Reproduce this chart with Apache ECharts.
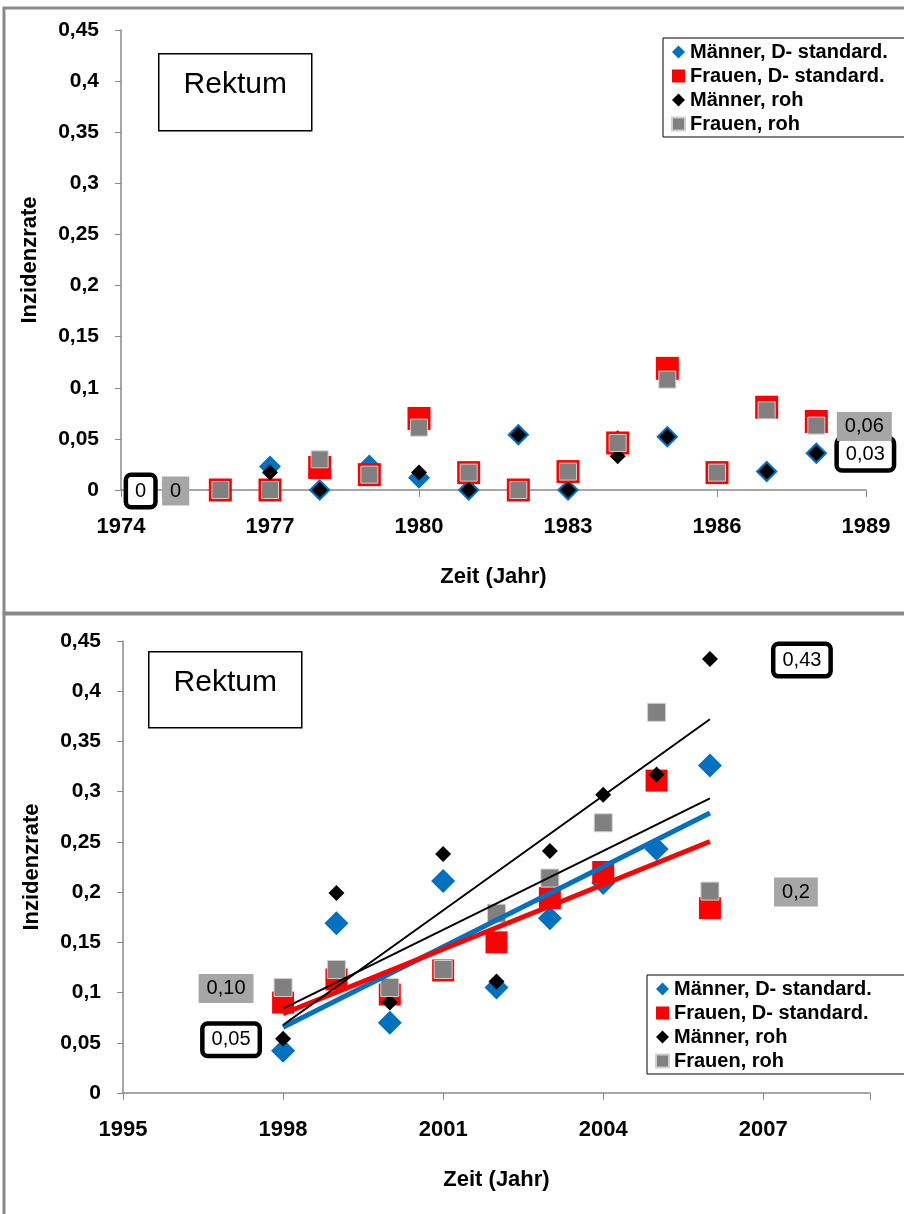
<!DOCTYPE html>
<html>
<head>
<meta charset="utf-8">
<script src="https://cdn.jsdelivr.net/npm/echarts@6/dist/echarts.min.js"></script>
<style>
  html, body { margin: 0; padding: 0; background: #fff; }
  #chart { width: 904px; height: 1214px; }
</style>
</head>
<body>
<div id="chart"></div>
<script>
var seriesNames = ['Männer, D- standard.', 'Frauen, D- standard.', 'Männer, roh', 'Frauen, roh'];
var titleText = 'Rektum';

// oberes Diagramm, 1975 - 1988
var yearsEarly = [1975, 1976, 1977, 1978, 1979, 1980, 1981, 1982, 1983, 1984, 1985, 1986, 1987, 1988];
var maennerStdEarly = [null, 0, 0.023, 0, 0.024, 0.012, 0, 0.054, 0, 0.048, 0.052, 0.017, 0.018, 0.036];
var frauenStdEarly = [null, 0, 0, 0.022, 0.015, 0.070, 0.017, 0, 0.018, 0.046, 0.119, 0.017, 0.081, 0.067];
var maennerRohEarly = [0, 0, 0.017, 0, 0.016, 0.017, 0, 0.054, 0, 0.033, 0.052, 0.017, 0.018, 0.036];
var frauenRohEarly = [0, 0, 0, 0.030, 0.015, 0.061, 0.017, 0, 0.018, 0.046, 0.108, 0.017, 0.078, 0.063];
var maennerRohEarlyLabels = ['0', '', '', '', '', '', '', '', '', '', '', '', '', '0,03'];
var frauenRohEarlyLabels = ['0', '', '', '', '', '', '', '', '', '', '', '', '', '0,06'];

// unteres Diagramm, 1998 - 2006
var yearsLate = [1998, 1999, 2000, 2001, 2002, 2003, 2004, 2005, 2006];
var maennerStdLate = [0.042, 0.169, 0.070, 0.211, 0.105, 0.174, 0.209, 0.243, 0.326];
var frauenStdLate = [0.090, 0.113, 0.098, 0.122, 0.150, 0.194, 0.220, 0.311, 0.184];
var maennerRohLate = [0.054, 0.199, 0.090, 0.238, 0.111, 0.241, 0.297, 0.317, 0.432];
var frauenRohLate = [0.105, 0.123, 0.105, 0.123, 0.179, 0.214, 0.269, 0.379, 0.201];
var maennerRohLateLabels = ['0,05', '', '', '', '', '', '', '', '0,43'];
var frauenRohLateLabels = ['0,10', '', '', '', '', '', '', '', '0,2'];

var FONT = '"Liberation Sans", Arial, sans-serif';
var colors = ['#0070c0', '#ff0000', '#000000', '#808080'];

var blackBox = {
  backgroundColor: '#fff', borderColor: '#000', borderWidth: 4.5, borderRadius: 3,
  padding: [5, 7, 3, 7], fontSize: 20, color: '#000', fontFamily: FONT
};
var grayBox = {
  backgroundColor: '#a6a6a6', padding: [5, 8, 4, 8], fontSize: 20, color: '#000', fontFamily: FONT
};

// Punkte aus den Arrays bauen, Beschriftungen an einzelnen Punkten
function points(years, values, labels, boxStyle, firstDx, lastDx) {
  var out = [];
  for (var i = 0; i < years.length; i++) {
    if (values[i] === null) continue;
    var item = { value: [years[i], values[i]] };
    if (labels && labels[i]) {
      var dx = i === 0 ? firstDx : lastDx;
      item.label = Object.assign({
        show: true, position: 'inside', offset: [dx, 1], formatter: labels[i]
      }, boxStyle);
    }
    out.push(item);
  }
  return out;
}

// lineare Trendlinie (Excel-Trend) aus den Daten
function trend(xs, ys) {
  var n = xs.length, mx = 0, my = 0, sxy = 0, sxx = 0;
  for (var i = 0; i < n; i++) { mx += xs[i] / n; my += ys[i] / n; }
  for (var j = 0; j < n; j++) {
    sxy += (xs[j] - mx) * (ys[j] - my);
    sxx += (xs[j] - mx) * (xs[j] - mx);
  }
  var b = sxy / sxx;
  return [[xs[0], my + b * (xs[0] - mx)], [xs[n - 1], my + b * (xs[n - 1] - mx)]];
}

function scatter(idx, gridIdx, data, size, symbol, border) {
  var style = { color: colors[idx], opacity: 1 };
  if (border) { style.borderColor = border; style.borderWidth = 1; }
  return {
    type: 'scatter',
    name: seriesNames[idx],
    xAxisIndex: gridIdx,
    yAxisIndex: gridIdx,
    symbol: symbol,
    symbolSize: size,
    itemStyle: style,
    data: data
  };
}

function yFmt(v) {
  if (v === 0) return '0';
  return String(+v.toFixed(2)).replace('.', ',');
}

function yAxis(gridIdx) {
  return {
    type: 'value', gridIndex: gridIdx, min: 0, max: 0.45, interval: 0.05,
    name: 'Inzidenzrate', nameLocation: 'middle', nameGap: 80,
    nameTextStyle: { fontSize: 22, fontWeight: 'bold', color: '#000', fontFamily: FONT },
    axisLine: { show: true, lineStyle: { color: '#898989', width: 1.5 } },
    axisTick: { show: true, length: 6, lineStyle: { color: '#898989' } },
    splitLine: { show: false },
    axisLabel: { margin: 22, fontSize: 21, fontWeight: 'bold', color: '#000', fontFamily: FONT, formatter: yFmt }
  };
}

function xAxis(gridIdx, min, max) {
  return {
    type: 'value', gridIndex: gridIdx, min: min, max: max, interval: 3,
    name: 'Zeit (Jahr)', nameLocation: 'middle', nameGap: 76,
    nameTextStyle: { fontSize: 22, fontWeight: 'bold', color: '#000', fontFamily: FONT },
    axisLine: { show: true, onZero: false, lineStyle: { color: '#898989', width: 1.5 } },
    axisTick: { show: true, length: 7, lineStyle: { color: '#898989' } },
    splitLine: { show: false },
    axisLabel: {
      margin: 26, fontSize: 22, fontWeight: 'bold', color: '#000', fontFamily: FONT,
      formatter: function (v) { return (v - min) % 3 === 0 ? String(v) : ''; }
    }
  };
}

function legend(left, top) {
  return {
    orient: 'vertical', left: left, top: top,
    backgroundColor: '#fff', borderColor: '#000', borderWidth: 1,
    padding: [4, 40, 3, 8], itemGap: 4, itemWidth: 13, itemHeight: 13,
    selectedMode: false,
    textStyle: { fontSize: 20, fontWeight: 'bold', color: '#000', fontFamily: FONT },
    data: [
      { name: seriesNames[0], icon: 'diamond' },
      { name: seriesNames[1], icon: 'rect' },
      { name: seriesNames[2], icon: 'diamond' },
      { name: seriesNames[3], icon: 'rect' }
    ]
  };
}

function titleBox(x, y, w, h) {
  return {
    type: 'group', left: x, top: y, children: [
      { type: 'rect', shape: { x: 0, y: 0, width: w, height: h }, style: { fill: '#fff', stroke: '#000', lineWidth: 1.5 } },
      { type: 'text', x: w / 2, y: 31, style: { text: titleText, fontSize: 30, fontFamily: FONT, fill: '#000', align: 'center', verticalAlign: 'middle' } }
    ]
  };
}

var trendStyles = [
  { color: colors[0], width: 5 },
  { color: colors[1], width: 5 },
  { color: '#000', width: 2 },
  { color: '#000', width: 2 }
];
var lateSets = [maennerStdLate, frauenStdLate, maennerRohLate, frauenRohLate];
var trendSeries = lateSets.map(function (vals, k) {
  return {
    type: 'line', name: 'trend' + k, xAxisIndex: 1, yAxisIndex: 1,
    showSymbol: false, symbol: 'none', silent: true, z: 4,
    lineStyle: { color: trendStyles[k].color, width: trendStyles[k].width },
    data: trend(yearsLate, vals)
  };
});

var chart = echarts.init(document.getElementById('chart'));
chart.setOption({
  animation: false,
  backgroundColor: '#fff',
  textStyle: { fontFamily: FONT },
  graphic: [
    { type: 'rect', shape: { x: 4, y: 8, width: 930, height: 605 }, style: { fill: 'none', stroke: '#898989', lineWidth: 3 }, z: -10 },
    { type: 'rect', shape: { x: 4, y: 614, width: 930, height: 620 }, style: { fill: 'none', stroke: '#898989', lineWidth: 3 }, z: -10 },
    titleBox(158, 53, 153, 77),
    titleBox(148, 651, 153, 76)
  ],
  legend: [legend(663, 38), legend(647, 975)],
  grid: [
    { left: 121, right: 38, top: 30, height: 460 },
    { left: 123, right: 34, top: 641, height: 452 }
  ],
  xAxis: [xAxis(0, 1974, 1989), xAxis(1, 1995, 2009)],
  yAxis: [yAxis(0), yAxis(1)],
  series: [
    scatter(0, 0, points(yearsEarly, maennerStdEarly), 22, 'diamond'),
    scatter(1, 0, points(yearsEarly, frauenStdEarly), 23, 'rect'),
    scatter(2, 0, points(yearsEarly, maennerRohEarly, maennerRohEarlyLabels, blackBox, -30, 49), 16, 'diamond'),
    scatter(3, 0, points(yearsEarly, frauenRohEarly, frauenRohEarlyLabels, grayBox, 5, 48), 17, 'rect', '#cfcfcf'),
    scatter(0, 1, points(yearsLate, maennerStdLate), 24, 'diamond'),
    scatter(1, 1, points(yearsLate, frauenStdLate), 22, 'rect'),
    scatter(2, 1, points(yearsLate, maennerRohLate, maennerRohLateLabels, blackBox, -52, 92), 16, 'diamond'),
    scatter(3, 1, points(yearsLate, frauenRohLate, frauenRohLateLabels, grayBox, -57, 86), 18, 'rect', '#cfcfcf')
  ].concat(trendSeries)
});
</script>
</body>
</html>
